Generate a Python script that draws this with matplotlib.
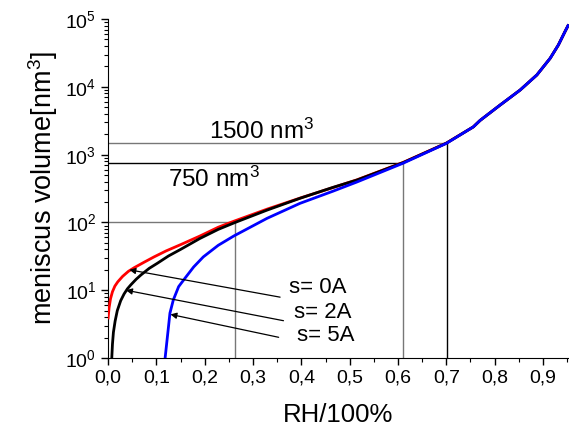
import numpy as np
import matplotlib
matplotlib.use('Agg')
import matplotlib.pyplot as plt
from matplotlib.ticker import MultipleLocator, FuncFormatter, LogLocator

plt.rcParams['font.family'] = ['Liberation Sans', 'DejaVu Sans']
plt.rcParams['mathtext.fontset'] = 'custom'
plt.rcParams['mathtext.rm'] = 'Liberation Sans'
plt.rcParams['mathtext.it'] = 'Liberation Sans:italic'

# s = 0A (red)
rh_0 = [0.0, 0.002, 0.005, 0.009, 0.014, 0.02, 0.03, 0.042, 0.054, 0.075, 0.095, 0.12, 0.15, 0.19, 0.228, 0.26,
        0.33, 0.40, 0.47, 0.515, 0.611, 0.70, 0.756, 0.77, 0.81, 0.853, 0.8875, 0.915, 0.932, 0.946, 0.952]
v_0 = [3.9, 5.5, 7.5, 9.5, 11.5, 13.3, 16, 19, 21.5, 26, 31, 38, 47, 63, 85, 104,
       158, 232, 335, 425, 770, 1480, 2570, 3200, 5300, 9000, 15000, 26400, 41500, 66000, 80000]

# s = 2A (black)
rh_2 = [0.0076, 0.009, 0.011, 0.0145, 0.019, 0.026, 0.033, 0.04, 0.047, 0.058, 0.068, 0.085, 0.102, 0.125,
        0.15, 0.19, 0.228, 0.263, 0.329, 0.397, 0.466, 0.515, 0.611, 0.70, 0.756, 0.77, 0.81, 0.853, 0.8875,
        0.915, 0.932, 0.946, 0.952]
v_2 = [1.0, 1.6, 2.4, 3.5, 5.0, 7.0, 8.8, 10.5, 12.0, 14.5, 16.8, 21, 25, 32,
       40, 58, 79, 100, 152, 227, 330, 422, 765, 1475, 2570, 3200, 5300, 9000, 15000,
       26400, 41500, 66000, 80000]

# s = 5A (blue)
rh_5 = [0.118, 0.122, 0.125, 0.128, 0.135, 0.146, 0.159, 0.177, 0.197, 0.215, 0.228, 0.26,
        0.329, 0.397, 0.466, 0.515, 0.611, 0.70, 0.756, 0.77, 0.81, 0.853, 0.8875, 0.915, 0.932, 0.946, 0.952]
v_5 = [1.0, 1.84, 2.9, 4.6, 7.2, 11.3, 15, 22, 31, 39, 46, 63,
       115, 191, 290, 395, 750, 1465, 2570, 3200, 5300, 9000, 15000, 26400, 41500, 66000, 80000]

# guide lines: (rh, volume, horizontal colour, vertical colour)
ref_rh = [0.263, 0.611, 0.701]
ref_vol = [100, 750, 1500]
ref_hcol = ['#777777', 'black', '#777777']
ref_vcol = ['#777777', '#777777', 'black']

labels = ['s= 0A', 's= 2A', 's= 5A']
arrow_tip = [(0.044, 20), (0.037, 10), (0.129, 4.4)]
arrow_tail = [(0.356, 7.9), (0.363, 3.55), (0.353, 2.02)]
text_pos = [(0.375, 11), (0.385, 4.7), (0.392, 2.18)]

fig = plt.figure(figsize=(5.69, 4.29), dpi=100)
ax = fig.add_axes([0.19, 0.1655, 0.81, 0.79])

for x, y, hc, vc in zip(ref_rh, ref_vol, ref_hcol, ref_vcol):
    ax.plot([0, x], [y, y], color=hc, lw=1.0, zorder=1)
    ax.plot([x, x], [1, y], color=vc, lw=1.0, zorder=1)

ax.plot(rh_0, v_0, color='#ff0000', lw=2.0, zorder=3)
ax.plot(rh_2, v_2, color='black', lw=2.0, zorder=4)
ax.plot(rh_5, v_5, color='#0000ff', lw=2.0, zorder=5)

for lab, tip, tail, tp in zip(labels, arrow_tip, arrow_tail, text_pos):
    ax.annotate('', xy=tip, xytext=tail,
                arrowprops=dict(arrowstyle='-|>', color='black', lw=0.9,
                                mutation_scale=9, shrinkA=0, shrinkB=0), zorder=6)
    ax.text(tp[0], tp[1], lab, fontsize=16, va='center', ha='left')

ax.text(0.208, 1500 * 1.45, '1500 nm$^3$', fontsize=17.5, ha='left', va='center')
ax.text(0.124, 750 * 0.58, '750 nm$^3$', fontsize=17.5, ha='left', va='center')

ax.set_yscale('log')
ax.set_xlim(0, 0.954)
ax.set_ylim(1, 1e5)

ax.xaxis.set_major_locator(MultipleLocator(0.1))
ax.xaxis.set_minor_locator(MultipleLocator(0.05))
ax.xaxis.set_major_formatter(FuncFormatter(lambda v, p: ('%.1f' % v).replace('.', ',')))
ax.yaxis.set_major_locator(LogLocator(base=10, numticks=10))
ax.yaxis.set_minor_locator(LogLocator(base=10, subs=np.arange(2, 10), numticks=20))
ax.yaxis.set_major_formatter(FuncFormatter(lambda v, p: '$10^{%d}$' % round(np.log10(v))))

ax.spines['top'].set_visible(False)
ax.spines['right'].set_visible(False)
ax.tick_params(which='major', direction='out', length=5, width=1, labelsize=14)
ax.tick_params(which='minor', direction='out', length=3, width=0.8)

ax.set_xlabel('RH/100%', fontsize=18.5, labelpad=12)
ax.set_ylabel('meniscus volume[nm$^3$]', fontsize=19.5, labelpad=4)

fig.savefig('out.png', dpi=100)
